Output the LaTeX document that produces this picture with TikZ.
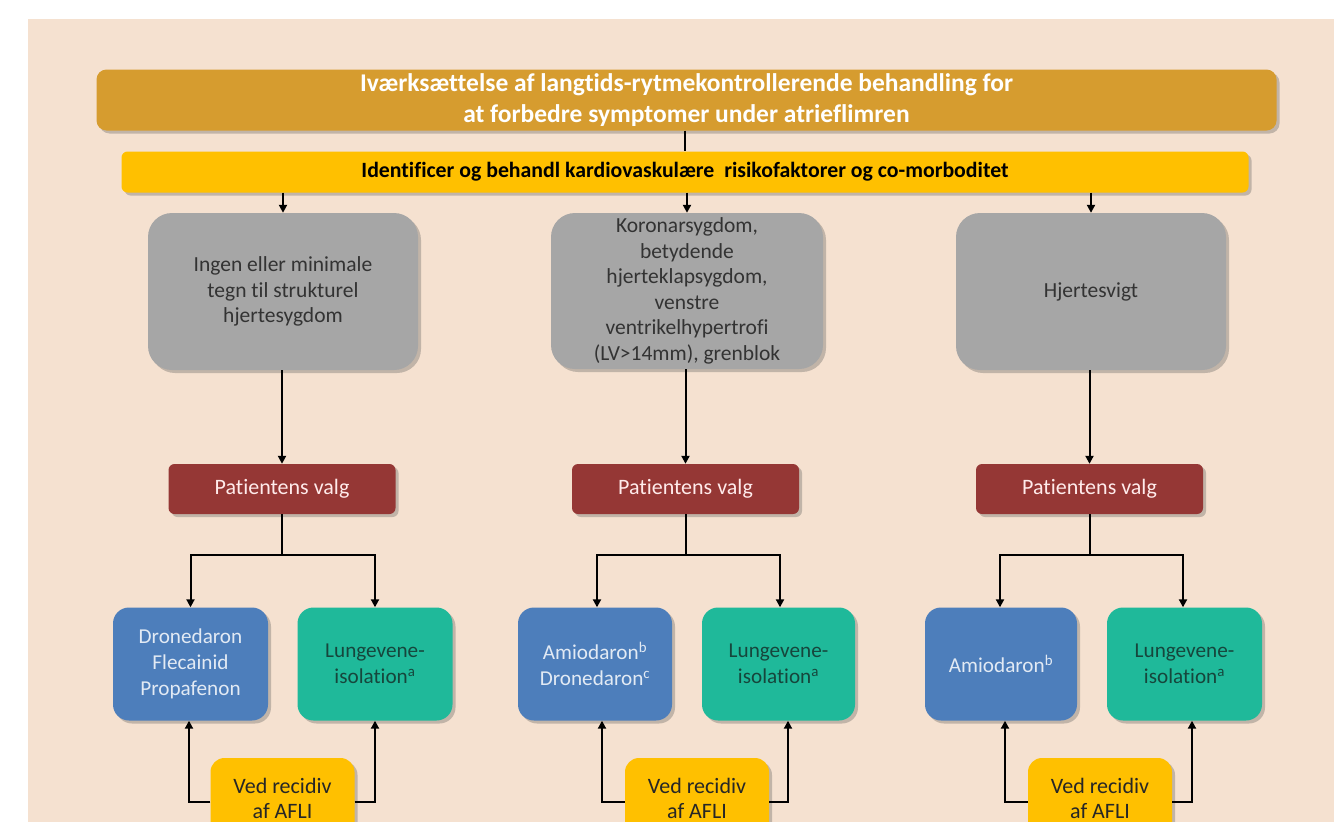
\documentclass[tikz,border=0pt]{standalone}
\usepackage{fontspec}
\setmainfont{Carlito}[Ligatures=NoCommon]
\usetikzlibrary{arrows.meta,shadows,calc}
\definecolor{bgpeach}{HTML}{F5E1D0}
\definecolor{topgold}{HTML}{D69C2F}
\definecolor{ylw}{HTML}{FFC000}
\definecolor{gry}{HTML}{A6A6A6}
\definecolor{redbox}{HTML}{953735}
\definecolor{bluebox}{HTML}{4D7EBB}
\definecolor{greenbox}{HTML}{1FB99A}
\definecolor{greentxt}{HTML}{16463C}
\definecolor{bluetxt}{HTML}{E2EAF4}
\begin{document}
\begin{tikzpicture}[x=1pt,y=-1pt,
  shd/.style={drop shadow={shadow xshift=3pt,shadow yshift=-3pt,opacity=0.3,fill=black!70}},
  boxbase/.style={shd,inner sep=0pt,align=center,anchor=center},
  topbox/.style={boxbase,fill=topgold,rounded corners=10pt,text=white,font=\fontsize{25.5}{31}\selectfont\bfseries},
  idbox/.style={boxbase,fill=ylw,rounded corners=6pt,text=black,font=\fontsize{21.8}{24}\selectfont\bfseries},
  graybox/.style={boxbase,fill=gry,rounded corners=24pt,text=black!80,font=\fontsize{21.5}{25.5}\selectfont,minimum width=270pt,minimum height=157pt},
  redbx/.style={boxbase,fill=redbox,rounded corners=6pt,text=white!92!red,font=\fontsize{22}{24}\selectfont,minimum width=227pt,minimum height=50pt},
  bluebx/.style={boxbase,fill=bluebox,rounded corners=16pt,text=bluetxt,font=\fontsize{21.2}{26}\selectfont,minimum height=113pt},
  greenbx/.style={boxbase,fill=greenbox,rounded corners=16pt,text=greentxt,font=\fontsize{21.2}{26}\selectfont,minimum height=113pt},
  vedbx/.style={boxbase,fill=ylw,rounded corners=14pt,text=black!85,font=\fontsize{22}{25}\selectfont,minimum width=144pt,minimum height=80pt},
  arr/.style={draw=black,line width=2pt,-{Triangle[length=8pt,width=8pt]}},
  ln/.style={draw=black,line width=2pt}
]
\useasboundingbox (0,0) rectangle (1334,822);
\fill[white] (0,0) rectangle (1334,822);
\fill[bgpeach] (28,19) rectangle (1334,822);

\node[topbox,minimum width=1180pt,minimum height=61pt] (top) at (686.5,100)
  {Iværksættelse af langtids-rytmekontrollerende behandling for\\at forbedre symptomer under atrieflimren};
\node[idbox,minimum width=1127pt,minimum height=41pt] (id) at (685,172)
  {Identificer og behandl kardiovaskulære\ \ risikofaktorer og co-morboditet};

\node[graybox] (g1) at (283,291.5) {Ingen eller minimale\\tegn til strukturel\\hjertesygdom};
\node[graybox,minimum width=272pt,minimum height=156pt] (g2) at (687,291)
  {Koronarsygdom,\\betydende\\hjerteklapsygdom,\\venstre\\ventrikelhypertrofi\\(LV>14mm), grenblok};
\node[graybox] (g3) at (1091,291.5) {Hjertesvigt};

\node[redbx] (p1) at (282,489) {Patientens valg};
\node[redbx] (p2) at (685.5,489) {Patientens valg};
\node[redbx] (p3) at (1089.5,489) {Patientens valg};

\node[bluebx,minimum width=155pt] (b1) at (190.5,664) {Dronedaron\\Flecainid\\Propafenon};
\node[greenbx,minimum width=155pt] (n1) at (375,664) {Lungevene-\\isolation\textsuperscript{a}};
\node[bluebx,minimum width=154pt] (b2) at (595,664) {Amiodaron\textsuperscript{b}\\Dronedaron\textsuperscript{c}};
\node[greenbx,minimum width=153pt] (n2) at (778.5,664) {Lungevene-\\isolation\textsuperscript{a}};
\node[bluebx,minimum width=152pt] (b3) at (1001,664) {Amiodaron\textsuperscript{b}};
\node[greenbx,minimum width=155pt] (n3) at (1184.5,664) {Lungevene-\\isolation\textsuperscript{a}};

\node[vedbx] (v1) at (282.5,798) {Ved recidiv\\af AFLI};
\node[vedbx] (v2) at (697,798) {Ved recidiv\\af AFLI};
\node[vedbx] (v3) at (1100,798) {Ved recidiv\\af AFLI};

\coordinate (j1) at (282,555);
\coordinate (j2) at (685.5,555);
\coordinate (j3) at (1089.5,555);

% connectors
\draw[ln] (top.south -| id.north) -- (id.north);
\foreach \g in {g1,g2,g3}{\draw[arr] (id.south -| \g.north) -- (\g.north);}
\draw[arr] (g1.south -| p1.north) -- (p1.north);
\draw[arr] (g2.south -| p2.north) -- (p2.north);
\draw[arr] (g3.south -| p3.north) -- (p3.north);

\draw[ln] (p1.south) -- (j1);
\draw[arr] (j1) -| (b1.north);
\draw[arr] (j1) -| (n1.north);
\draw[ln] (p2.south) -- (j2);
\draw[arr] (j2) -| ([xshift=2pt]b2.north);
\draw[arr] (j2) -| ([xshift=1.5pt]n2.north);
\draw[ln] (p3.south) -- (j3);
\draw[arr] (j3) -| ([xshift=-1pt]b3.north);
\draw[arr] (j3) -| ([xshift=-1.5pt]n3.north);

\draw[arr] ([yshift=-4pt]v1.west) -| ([xshift=-1.5pt]b1.south);
\draw[arr] ([yshift=-4pt]v1.east) -| (n1.south);
\draw[arr] ([yshift=-4pt]v2.west) -| ([xshift=7pt]b2.south);
\draw[arr] ([yshift=-4pt]v2.east) -| ([xshift=9.5pt]n2.south);
\draw[arr] ([yshift=-4pt]v3.west) -| ([xshift=4pt]b3.south);
\draw[arr] ([yshift=-4pt]v3.east) -| ([xshift=7.5pt]n3.south);
\end{tikzpicture}
\end{document}
